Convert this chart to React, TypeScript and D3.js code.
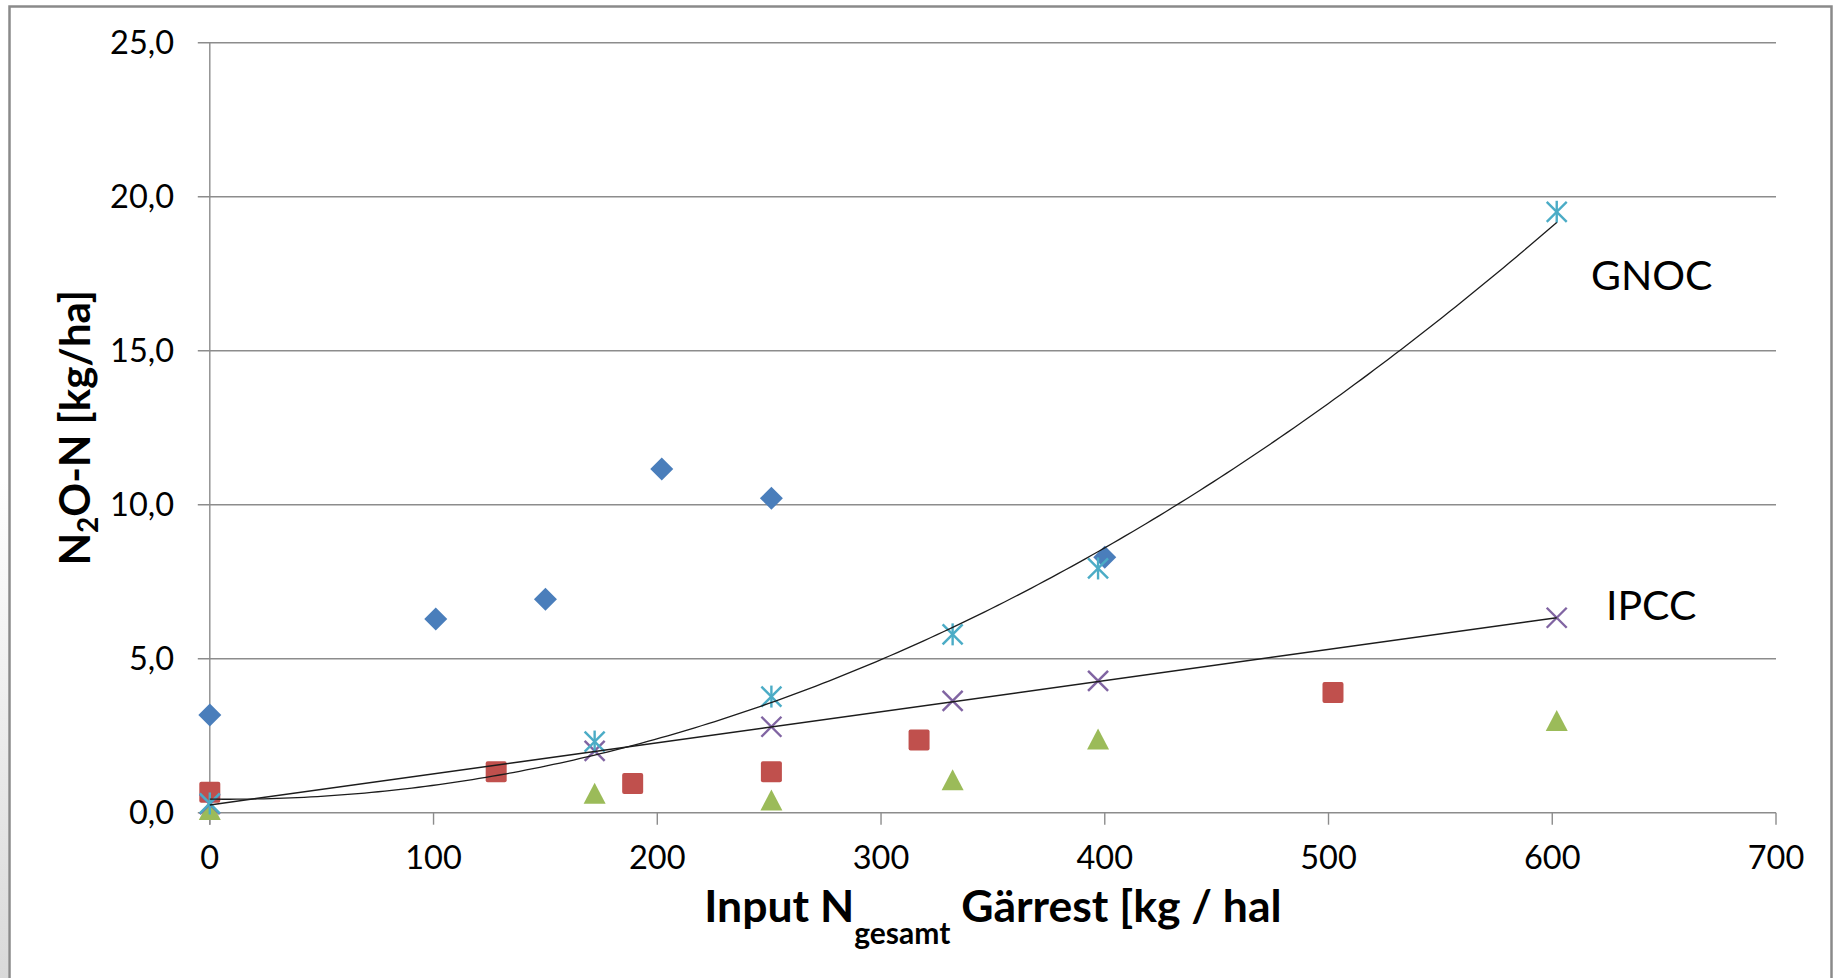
import React from "react";
import * as d3 from "d3";

// Measured N2O-N emissions per input of digestate nitrogen
const seriesAX = [0, 101, 150, 202, 251, 400];
const seriesAY = [3.17, 6.29, 6.93, 11.16, 10.21, 8.29];

const seriesBX = [0, 128, 189, 251, 317, 502];
const seriesBY = [0.66, 1.33, 0.95, 1.33, 2.36, 3.9];

const seriesCX = [0, 172, 251, 332, 397, 602];
const seriesCY = [0.1, 0.63, 0.41, 1.07, 2.39, 2.99];

// Model estimates
const ipccX = [0, 172, 251, 332, 397, 602];
const ipccY = [0.28, 2.01, 2.79, 3.63, 4.28, 6.33];

const gnocX = [0, 172, 251, 332, 397, 602];
const gnocY = [0.3, 2.31, 3.77, 5.79, 7.93, 19.51];

// Trendline coefficients (linear for IPCC, 2nd-order polynomial for GNOC)
const ipccTrend = { intercept: 0.25, slope: 0.0101 };
const gnocTrend = { c0: 0.44, c1: -0.0008, c2: 0.000053 };

const xTicks = [0, 100, 200, 300, 400, 500, 600, 700];
const yTicks = [0, 5, 10, 15, 20, 25];

const W = 1837;
const H = 978;
const FONT = "Lato, 'Open Sans', 'DejaVu Sans', sans-serif";

const COLORS = {
  a: "#4A7EBB",
  b: "#C0504D",
  c: "#9BBB59",
  ipcc: "#8064A2",
  gnoc: "#4BACC6",
  grid: "#8c8c8c",
  trend: "#1c1c1c",
};

const locale = d3.formatLocale({
  decimal: ",",
  thousands: ".",
  grouping: [3],
  currency: ["", " €"],
});
const fmtY = locale.format(".1f");

export default function App() {
  const x = d3.scaleLinear().domain([0, 700]).range([209.8, 1776]);
  const y = d3.scaleLinear().domain([0, 25]).range([812.7, 42.7]);

  const tickLen = 12;

  const zip = (xs: number[], ys: number[]) => xs.map((v, i) => [v, ys[i]] as [number, number]);

  const line = d3
    .line<[number, number]>()
    .x((d) => x(d[0]))
    .y((d) => y(d[1]));

  const ipccRange = d3.extent(ipccX) as [number, number];
  const gnocRange = d3.extent(gnocX) as [number, number];

  const ipccLine = line(
    ipccRange.map((v) => [v, ipccTrend.intercept + ipccTrend.slope * v] as [number, number])
  );
  const gnocSamples = d3
    .range(0, 201)
    .map((i) => gnocRange[0] + ((gnocRange[1] - gnocRange[0]) * i) / 200);
  const gnocLine = line(
    gnocSamples.map(
      (v) => [v, gnocTrend.c0 + gnocTrend.c1 * v + gnocTrend.c2 * v * v] as [number, number]
    )
  );

  const diamond = (cx: number, cy: number, r = 11.5) =>
    `M${cx},${cy - r}L${cx + r},${cy}L${cx},${cy + r}L${cx - r},${cy}Z`;
  const triangle = (cx: number, cy: number) =>
    `M${cx},${cy - 10.5}L${cx + 11},${cy + 10.5}L${cx - 11},${cy + 10.5}Z`;

  return (
    <svg
      width={W}
      height={H}
      style={{ position: "absolute", left: 0, top: 0, background: "#fff" }}
      fontFamily={FONT}
    >
      <defs>
        <linearGradient id="edgeShade" x1="0" y1="0" x2="0" y2="1">
          <stop offset="0" stopColor="#ffffff" />
          <stop offset="1" stopColor="#d9d9d9" />
        </linearGradient>
      </defs>
      <rect x={0} y={0} width={W} height={H} fill="#fff" />
      <rect x={0} y={480} width={8} height={H - 480} fill="url(#edgeShade)" />

      {/* chart frame */}
      <rect x={9.5} y={6.5} width={1822} height={1000} fill="#fff" stroke="#8a8a8a" strokeWidth={2.5} />

      {/* horizontal gridlines with left tick marks */}
      {yTicks.map((t) => (
        <line
          key={`g${t}`}
          x1={x(0) - tickLen}
          x2={x(700)}
          y1={y(t)}
          y2={y(t)}
          stroke={COLORS.grid}
          strokeWidth={1.4}
        />
      ))}

      {/* y axis */}
      <line x1={x(0)} x2={x(0)} y1={y(25)} y2={y(0) + tickLen} stroke={COLORS.grid} strokeWidth={1.4} />

      {/* x axis ticks */}
      {xTicks.map((t) => (
        <line
          key={`xt${t}`}
          x1={x(t)}
          x2={x(t)}
          y1={y(0)}
          y2={y(0) + tickLen}
          stroke={COLORS.grid}
          strokeWidth={1.4}
        />
      ))}

      {/* y tick labels */}
      {yTicks.map((t) => (
        <text key={`yl${t}`} x={174} y={y(t) + 11.2} textAnchor="end" fontSize={32.5} fill="#000">
          {fmtY(t)}
        </text>
      ))}

      {/* x tick labels */}
      {xTicks.map((t) => (
        <text key={`xl${t}`} x={x(t)} y={869} textAnchor="middle" fontSize={32.5} fill="#000">
          {t}
        </text>
      ))}

      {/* series A: diamonds */}
      {zip(seriesAX, seriesAY).map(([a, b], i) => (
        <path key={`a${i}`} d={diamond(x(a), y(b))} fill={COLORS.a} />
      ))}

      {/* series B: squares */}
      {zip(seriesBX, seriesBY).map(([a, b], i) => (
        <rect
          key={`b${i}`}
          x={x(a) - 10.5}
          y={y(b) - 10.5}
          width={21}
          height={21}
          rx={2}
          fill={COLORS.b}
        />
      ))}

      {/* series C: triangles */}
      {zip(seriesCX, seriesCY).map(([a, b], i) => (
        <path key={`c${i}`} d={triangle(x(a), y(b))} fill={COLORS.c} />
      ))}

      {/* IPCC: crosses */}
      {zip(ipccX, ipccY).map(([a, b], i) => {
        const cx = x(a);
        const cy = y(b);
        const r = 10;
        return (
          <g key={`i${i}`} stroke={COLORS.ipcc} strokeWidth={2.4}>
            <line x1={cx - r} y1={cy - r} x2={cx + r} y2={cy + r} />
            <line x1={cx - r} y1={cy + r} x2={cx + r} y2={cy - r} />
          </g>
        );
      })}

      {/* GNOC: asterisks */}
      {zip(gnocX, gnocY).map(([a, b], i) => {
        const cx = x(a);
        const cy = y(b);
        const r = 10;
        return (
          <g key={`n${i}`} stroke={COLORS.gnoc} strokeWidth={2.4}>
            <line x1={cx - r} y1={cy - r} x2={cx + r} y2={cy + r} />
            <line x1={cx - r} y1={cy + r} x2={cx + r} y2={cy - r} />
            <line x1={cx} y1={cy - 11} x2={cx} y2={cy + 11} />
          </g>
        );
      })}

      {/* trendlines */}
      <path d={ipccLine ?? ""} fill="none" stroke={COLORS.trend} strokeWidth={1.5} />
      <path d={gnocLine ?? ""} fill="none" stroke={COLORS.trend} strokeWidth={1.3} />

      {/* trendline labels */}
      <text x={1591} y={290} fontSize={41} fill="#000">
        GNOC
      </text>
      <text x={1606} y={620} fontSize={41} fill="#000">
        IPCC
      </text>

      {/* y axis title */}
      <text
        transform={`translate(90, ${(y(0) + y(25)) / 2}) rotate(-90)`}
        textAnchor="middle"
        fontSize={42}
        fontWeight={700}
        fill="#000"
      >
        N
        <tspan dy={8} fontSize={28}>
          2
        </tspan>
        <tspan dy={-8}>O-N [kg/ha]</tspan>
      </text>

      {/* x axis title */}
      <text x={(x(0) + x(700)) / 2} y={922} textAnchor="middle" fontSize={44.5} fontWeight={700} fill="#000">
        Input N
        <tspan dy={22} fontSize={30}>
          gesamt
        </tspan>
        <tspan dy={-22}> Gärrest [kg / hal</tspan>
      </text>
    </svg>
  );
}
